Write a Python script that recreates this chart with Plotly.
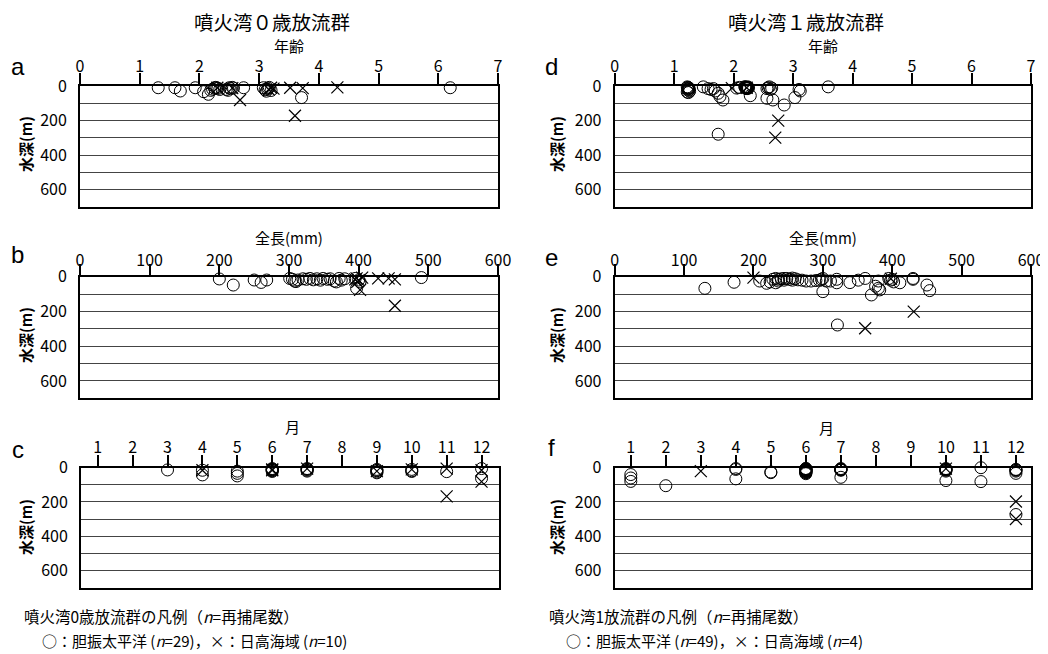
import plotly.graph_objects as go

# page origin is offset by the browser's default 8px body margin
OFF = 8
W, H = 1048 - OFF, 654 - OFF

# ---------------- data ----------------
# Panel a: 噴火湾0歳放流群, 年齢 vs 水深
a_circ_age = [1.31, 1.59, 1.68, 1.93, 2.07, 2.15, 2.19, 2.22, 2.25, 2.27, 2.29, 2.31, 2.45, 2.48, 2.5,
              2.52, 2.55, 2.57, 2.74, 3.07, 3.1, 3.12, 3.14, 3.15, 3.17, 3.2, 3.71, 6.2, 2.34]
a_circ_dep = [10, 10, 29, 10, 33, 48, 25, 18, 12, 8, 10, 14, 20, 25, 10,
              15, 8, 12, 10, 10, 22, 30, 18, 12, 8, 26, 67, 10, 20]
a_x_age = [2.68, 3.2, 3.24, 3.52, 3.73, 3.6, 4.31, 2.3, 3.16, 2.55]
a_x_dep = [81, 10, 15, 10, 12, 172, 8, 10, 20, 12]

# Panel b: 全長 vs 水深
b_circ_len = [200, 220, 250, 260, 268, 301, 305, 308, 313, 320, 325, 330, 335, 340, 349,
              355, 359, 365, 368, 372, 375, 397, 400, 402, 395, 490, 310, 345, 380]
b_circ_dep = [13, 48, 19, 33, 19, 10, 15, 25, 19, 12, 15, 10, 18, 12, 10,
              15, 12, 25, 30, 10, 20, 67, 19, 30, 10, 5, 28, 20, 12]
b_x_len = [397, 402, 428, 443, 452, 452, 400, 405, 398, 395]
b_x_dep = [10, 76, 10, 10, 15, 167, 20, 5, 30, 15]

# Panel c: 月 vs 水深
c_circ_mon = [3, 4, 4, 5, 5, 5, 6, 6, 6, 6, 6, 6, 6, 7, 7, 7, 7, 7, 9, 9, 9, 9, 9, 10, 10, 10, 11, 12, 12]
c_circ_dep = [13, 15, 42, 20, 33, 48, 5, 8, 12, 15, 18, 22, 10, 5, 10, 15, 8, 20, 10, 18, 25, 30, 15,
              10, 18, 22, 23, 5, 62]
c_x_mon = [4, 6, 6, 7, 9, 10, 11, 11, 12, 12]
c_x_dep = [15, 10, 15, 5, 20, 10, 5, 167, 15, 81]

# Panel d: 噴火湾1歳放流群, 年齢 vs 水深
d_circ_age = [1.22, 1.23, 1.24, 1.25, 1.24, 1.23, 1.25, 1.24, 1.26, 1.22, 1.24,
              1.49, 1.57, 1.62, 1.66, 1.69, 1.74, 1.77, 1.82, 1.74,
              2.05, 2.1,
              2.19, 2.2, 2.21, 2.22, 2.23, 2.24, 2.2, 2.22, 2.25, 2.21, 2.23, 2.19, 2.24, 2.22,
              2.28,
              2.56, 2.6, 2.64, 2.56, 2.66, 2.62, 2.58,
              2.85, 3.03, 3.12, 3.1, 3.59]
d_circ_dep = [5, 8, 10, 12, 15, 18, 20, 25, 30, 35, 38,
              5, 15, 20, 15, 29, 42, 61, 81, 279,
              12, 8,
              5, 8, 10, 12, 15, 5, 10, 8, 12, 15, 10, 5, 8, 12,
              56,
              15, 5, 12, 71, 81, 20, 10,
              110, 67, 29, 20, 5]
d_x_age = [1.97, 2.75, 2.70, 2.22]
d_x_dep = [12, 200, 299, 10]

# Panel e: 全長 vs 水深
e_circ_len = [130, 172, 209, 219, 224, 228, 232, 236, 240, 244, 248, 252, 256, 260, 264, 270, 276, 283,
              290, 295, 300, 305, 300, 311, 320, 321, 339, 351, 361, 370, 380, 382, 380, 398, 402, 411,
              430, 450, 454, 232, 236, 244, 256, 298, 320, 395, 400, 430, 376]
e_circ_dep = [67, 32, 25, 38, 30, 15, 10, 25, 12, 20, 10, 15, 20, 12, 18, 20, 25, 25,
              22, 20, 10, 25, 86, 25, 35, 278, 34, 20, 10, 105, 67, 76, 25, 20, 30, 35,
              15, 48, 80, 35, 15, 10, 8, 15, 15, 10, 15, 10, 55]
e_x_len = [200, 361, 431, 398]
e_x_dep = [5, 297, 201, 12]

# Panel f: 月 vs 水深
f_circ_mon = [1, 1, 1, 2, 4, 4, 4, 5, 5,
              6, 6, 6, 6, 6, 6, 6, 6, 6, 6, 6, 6, 6, 6, 6, 6,
              7, 7, 7, 7, 7, 7, 7, 7,
              10, 10, 10, 10, 10, 10, 10, 10,
              11, 11,
              12, 12, 12, 12, 12, 12]
f_circ_dep = [40, 60, 80, 105, 10, 65, 5, 29, 25,
              5, 8, 10, 12, 15, 18, 20, 22, 25, 28, 30, 35, 10, 15, 20, 5,
              5, 8, 10, 12, 15, 56, 10, 12,
              5, 8, 10, 12, 15, 75, 10, 20,
              0, 81,
              10, 15, 33, 273, 12, 20]
f_x_mon = [3, 10, 12, 12]
f_x_dep = [20, 5, 197, 299]

age_ticks = [0, 1, 2, 3, 4, 5, 6, 7]
len_ticks = [0, 100, 200, 300, 400, 500, 600]
mon_ticks = [1, 2, 3, 4, 5, 6, 7, 8, 9, 10, 11, 12]
depth_ticks = [0, 100, 200, 300, 400, 500, 600]
depth_labels = ["0", "", "200", "", "400", "", "600"]

FONT = "Noto Sans CJK JP"


def px(x):
    return (x - OFF) / W


def py(y):
    return 1 - (y - OFF) / H


panels = [
    # (x-domain px, y-domain px (top,bottom), x-range, tickvals, label standoff, circles, crosses)
    ((80, 498), (86, 207), [0, 7], age_ticks, -5, (a_circ_age, a_circ_dep), (a_x_age, a_x_dep)),
    ((80, 498), (276.7, 398.3), [0, 600], len_ticks, -9, (b_circ_len, b_circ_dep), (b_x_len, b_x_dep)),
    ((81, 499), (467.7, 587.7), [0.52, 12.5], mon_ticks, -5, (c_circ_mon, c_circ_dep), (c_x_mon, c_x_dep)),
    ((614.7, 1031), (86, 207), [0, 7], age_ticks, -5, (d_circ_age, d_circ_dep), (d_x_age, d_x_dep)),
    ((614.7, 1031), (276.7, 398.3), [0, 600], len_ticks, -9, (e_circ_len, e_circ_dep), (e_x_len, e_x_dep)),
    ((614.7, 1031), (467.7, 587.7), [0.54, 12.43], mon_ticks, -5, (f_circ_mon, f_circ_dep), (f_x_mon, f_x_dep)),
]

fig = go.Figure()
layout = dict(
    width=W, height=H,
    margin=dict(l=0, r=0, t=0, b=0, autoexpand=False),
    paper_bgcolor="white", plot_bgcolor="white",
    showlegend=False,
    font=dict(family=FONT, color="black"),
)

for i, (xd, yd, xr, tv, so, circ, crs) in enumerate(panels, start=1):
    xa = "xaxis" if i == 1 else f"xaxis{i}"
    ya = "yaxis" if i == 1 else f"yaxis{i}"
    xs = "x" if i == 1 else f"x{i}"
    ys = "y" if i == 1 else f"y{i}"
    layout[xa] = dict(
        domain=[px(xd[0]), px(xd[1])], range=xr, anchor=ys, side="top",
        automargin=False,
        showline=True, linewidth=2, linecolor="black", mirror=True,
        ticks="outside", ticklen=11, tickwidth=2, tickcolor="black",
        tickvals=tv, showgrid=False, zeroline=False,
        tickfont=dict(family=FONT, size=16, color="black"),
        ticklabelstandoff=so, ticklabeloverflow="allow",
    )
    layout[ya] = dict(
        domain=[py(yd[1]), py(yd[0])], range=[700, 0], anchor=xs,
        automargin=False,
        showline=True, linewidth=2, linecolor="black", mirror=True,
        ticks="", tickvals=depth_ticks, ticktext=depth_labels,
        showgrid=True, gridcolor="#444444", gridwidth=1, zeroline=False,
        tickfont=dict(family=FONT, size=16, color="black"),
        ticklabelstandoff=8,
    )
    fig.add_trace(go.Scatter(
        x=circ[0], y=circ[1], xaxis=xs, yaxis=ys, mode="markers", cliponaxis=False,
        marker=dict(symbol="circle-open", size=12, color="black", line=dict(width=1, color="black")),
    ))
    fig.add_trace(go.Scatter(
        x=crs[0], y=crs[1], xaxis=xs, yaxis=ys, mode="markers", cliponaxis=False,
        marker=dict(symbol="x-thin-open", size=12, color="black", line=dict(width=1.2, color="black")),
    ))

anns = []


def ann(text, x, y, size=15, xanchor="center", angle=0, family=FONT):
    anns.append(dict(text=text, x=px(x), y=py(y), xref="paper", yref="paper",
                     xanchor=xanchor, yanchor="middle", showarrow=False, textangle=angle,
                     font=dict(family=family, size=size, color="black")))


ann("噴火湾０歳放流群", 272, 21, size=19.5)
ann("噴火湾１歳放流群", 806, 21, size=19.5)
for cx in (289, 823):
    ann("年齢", cx, 45, size=15)
    ann("全長(mm)", cx, 237, size=15)
ann("月", 292, 426, size=15)
ann("月", 826, 427, size=15)

for t, x, y in [("a", 18, 67), ("b", 17, 255), ("c", 18, 449),
                ("d", 551, 67), ("e", 551, 257), ("f", 551, 447)]:
    ann(t, x, y, size=24, family="Liberation Sans")

for x in (25, 556):
    for y in (144, 335, 527):
        ann("<b>水深(m)</b>", x, y, size=15, angle=-90)

ann("噴火湾0歳放流群の凡例（<i>n</i>=再捕尾数）", 22, 616, size=15.5, xanchor="left")
ann("○：胆振太平洋 (<i>n</i>=29)，×：日高海域 (<i>n</i>=10)", 40, 640, size=15, xanchor="left")
ann("噴火湾1放流群の凡例（<i>n</i>=再捕尾数）", 547, 616, size=15.5, xanchor="left")
ann("○：胆振太平洋 (<i>n</i>=49)，×：日高海域 (<i>n</i>=4)", 564, 640, size=15, xanchor="left")

layout["annotations"] = anns
fig.update_layout(**layout)
fig.write_html("out.html")
